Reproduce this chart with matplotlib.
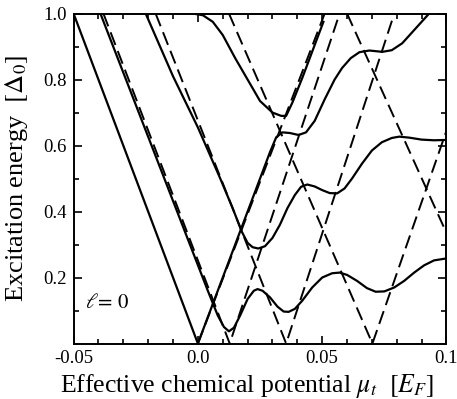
import numpy as np
import matplotlib
matplotlib.use("Agg")
from matplotlib import pyplot as plt
from matplotlib.ticker import MultipleLocator

plt.rcParams['font.family'] = ['Liberation Serif', 'DejaVu Serif']
plt.rcParams['mathtext.fontset'] = 'stix'

# solid curves (coupled levels)
sa_x = [-0.05, 0.0, 0.029, 0.0315, 0.034, 0.037, 0.0405, 0.0435, 0.047, 0.051, 0.055,
        0.058, 0.0615, 0.065, 0.069, 0.0742, 0.078, 0.0822, 0.087, 0.093]
sa_y = [1.0, 0.0, 0.58, 0.625, 0.64, 0.638, 0.632, 0.64, 0.675, 0.74, 0.80,
        0.835, 0.865, 0.883, 0.888, 0.884, 0.889, 0.91, 0.95, 1.0]

sb_x = [-0.0392, 0.004, 0.008, 0.0105, 0.0125, 0.0145, 0.017, 0.020, 0.0225, 0.024,
        0.026, 0.029, 0.032, 0.0345, 0.0365, 0.039, 0.042, 0.046, 0.050, 0.054, 0.057,
        0.060, 0.064, 0.068, 0.0715, 0.075, 0.079, 0.083, 0.087, 0.091, 0.095, 0.1]
sb_y = [1.0, 0.16, 0.085, 0.05, 0.037, 0.048, 0.085, 0.135, 0.16, 0.165,
        0.16, 0.14, 0.112, 0.097, 0.096, 0.105, 0.13, 0.17, 0.20, 0.213, 0.215,
        0.208, 0.19, 0.168, 0.157, 0.158, 0.17, 0.19, 0.215, 0.237, 0.252, 0.258]

sc_x = [-0.021, -0.01, 0.0, 0.009, 0.014, 0.0176, 0.020, 0.022, 0.0243, 0.027, 0.030,
        0.033, 0.036, 0.039, 0.0415, 0.044, 0.047, 0.050, 0.053, 0.056, 0.059, 0.062,
        0.066, 0.070, 0.074, 0.078, 0.081, 0.085, 0.09, 0.095, 0.1]
sc_y = [1.0, 0.81, 0.655, 0.50, 0.41, 0.34, 0.305, 0.292, 0.288, 0.295, 0.32,
        0.36, 0.41, 0.45, 0.475, 0.482, 0.476, 0.465, 0.456, 0.455, 0.47, 0.50,
        0.545, 0.585, 0.61, 0.623, 0.627, 0.624, 0.618, 0.616, 0.617]

top_x = [-0.002, 0.002, 0.006, 0.010, 0.015, 0.020, 0.025, 0.030, 0.0335, 0.0355, 0.038,
         0.042, 0.046, 0.0505]
top_y = [1.0, 0.995, 0.975, 0.935, 0.865, 0.80, 0.735, 0.70, 0.69, 0.69, 0.73,
         0.805, 0.885, 0.975]

# dashed curves (uncoupled levels)
d0_x = [0.0, 0.051]
d0_y = [0.0, 1.0]
d1_x = [-0.038, 0.0128, 0.057]
d1_y = [1.0, 0.0, 1.0]
d2_x = [-0.017, 0.0355, 0.079]
d2_y = [1.0, 0.0, 1.0]
d3_x = [0.0125, 0.0702, 0.1]
d3_y = [1.0, 0.0, 0.645]
d4_x = [0.060, 0.1]
d4_y = [1.0, 0.335]

xticks = [-0.05, 0.0, 0.05, 0.1]
xticklabels = ['-0.05', '0.0', '0.05', '0.1']
yticks = [0.2, 0.4, 0.6, 0.8, 1.0]
yticklabels = ['0.2', '0.4', '0.6', '0.8', '1.0']

fig = plt.figure(figsize=(4.57, 3.99), dpi=100)
ax = fig.add_axes([0.161, 0.139, 0.816, 0.827])

for xs, ys in [(d0_x, d0_y), (d1_x, d1_y), (d2_x, d2_y), (d3_x, d3_y), (d4_x, d4_y)]:
    ax.plot(xs, ys, color='black', lw=1.4, dashes=(7, 3.3))
for xs, ys in [(sa_x, sa_y), (sb_x, sb_y), (sc_x, sc_y), (top_x, top_y)]:
    ax.plot(xs, ys, color='black', lw=1.6, solid_joinstyle='round')

ax.set_xlim(-0.05, 0.1)
ax.set_ylim(0.0, 1.0)
ax.set_xticks(xticks)
ax.set_xticklabels(xticklabels)
ax.set_yticks(yticks)
ax.set_yticklabels(yticklabels)
ax.xaxis.set_minor_locator(MultipleLocator(0.01))
ax.yaxis.set_minor_locator(MultipleLocator(0.1))
ax.tick_params(which='both', direction='in', top=True, right=True, labelsize=13.5, width=1.2)
ax.tick_params(which='major', length=6, pad=5)
ax.tick_params(which='minor', length=3.5)
for sp in ax.spines.values():
    sp.set_linewidth(1.4)

ax.set_xlabel(r'Effective chemical potential $\mu_t$  $[E_F]$', fontsize=18.5)
ax.xaxis.set_label_coords(0.465, -0.085)
ax.set_ylabel(r'Excitation energy  $[\Delta_0]$', fontsize=19)
ax.yaxis.set_label_coords(-0.118, 0.5)
ax.text(-0.0455, 0.12, r'$\ell\!=\,0$', fontsize=15, va='center', ha='left')

fig.savefig('out.png', dpi=100)
